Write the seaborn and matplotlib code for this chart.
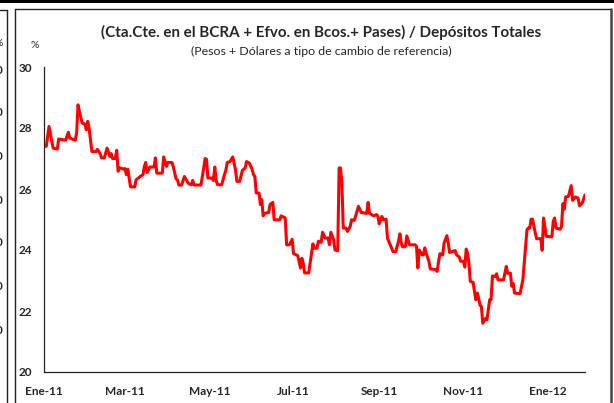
import matplotlib
matplotlib.use("Agg")
import matplotlib.pyplot as plt
import seaborn as sns
import numpy as np
import pandas as pd
from matplotlib.lines import Line2D
from matplotlib.patches import Rectangle

# días desde 01-01-2011 y valor del ratio (%)
dias = [0, 2, 4, 6, 7, 10, 11, 16, 18, 19, 23, 24, 25, 26, 28, 30, 31, 32, 33, 35,
        38, 39, 41, 42, 44, 46, 48, 49, 50, 52, 53, 54, 55, 58, 59, 60, 61, 62, 63, 66,
        67, 70, 72, 73, 74, 75, 77, 80, 81, 82, 86, 87, 89, 90, 93, 94, 96, 97, 98, 100,
        102, 104, 105, 107, 108, 109, 114, 116, 117, 118, 119, 122, 123, 124, 125, 126, 129, 131, 132, 133,
        135, 137, 139, 140, 142, 144, 146, 147, 149, 151, 152, 153, 154, 156, 157, 158, 159, 160, 163, 164,
        166, 167, 171, 172, 175, 176, 178, 180, 181, 184, 185, 186, 187, 188, 189, 192, 193, 195, 196, 198,
        199, 201, 202, 204, 206, 207, 208, 210, 211, 213, 214, 215, 216, 217, 219, 220, 222, 223, 225, 227,
        228, 230, 234, 235, 236, 239, 241, 242, 243, 245, 246, 248, 249, 251, 253, 255, 257, 258, 259, 260,
        262, 263, 265, 269, 270, 271, 272, 274, 275, 276, 277, 279, 280, 284, 285, 286, 287, 289, 290, 292,
        293, 294, 296, 298, 299, 301, 302, 304, 305, 306, 307, 308, 309, 311, 312, 313, 314, 315, 316, 317,
        318, 320, 321, 323, 324, 325, 327, 328, 329, 333, 335, 336, 338, 339, 340, 341, 345, 347, 348, 350,
        351, 352, 353, 354, 356, 357, 360, 361, 362, 364, 368, 369, 370, 371, 374, 375, 376, 377, 378, 380,
        382, 383, 385, 387, 388, 390, 392]

valores = [27.40, 27.40, 28.05, 27.56, 27.34, 27.31, 27.64, 27.60, 27.86, 27.67,
           27.60, 27.84, 28.76, 28.54, 28.16, 28.13, 27.94, 28.22, 28.00, 27.23,
           27.23, 27.30, 27.16, 27.02, 27.02, 27.34, 27.07, 27.16, 27.00, 27.00,
           27.27, 26.58, 26.70, 26.65, 26.67, 26.47, 26.65, 26.36, 26.07, 26.07,
           26.30, 26.41, 26.47, 26.74, 26.87, 26.54, 26.72, 26.72, 27.02, 26.52,
           26.52, 27.05, 26.74, 26.87, 26.87, 26.72, 26.33, 26.30, 26.13, 26.13,
           26.41, 26.25, 26.18, 26.14, 26.28, 26.13, 26.13, 26.69, 27.00, 26.97,
           26.36, 26.36, 26.28, 26.72, 26.28, 26.14, 26.14, 26.47, 26.61, 26.87,
           26.90, 27.05, 26.63, 26.25, 26.25, 26.61, 26.69, 26.90, 26.85, 26.65,
           26.47, 26.41, 25.87, 25.87, 25.49, 25.65, 25.12, 25.20, 25.23, 25.49,
           25.56, 24.99, 24.99, 25.12, 25.05, 24.17, 24.17, 24.35, 23.88, 23.82,
           23.63, 23.41, 23.73, 23.57, 23.25, 23.25, 23.57, 24.20, 24.06, 24.06,
           24.29, 24.25, 24.58, 24.39, 24.39, 24.17, 24.58, 24.34, 24.00, 23.98,
           26.69, 26.69, 26.20, 24.72, 24.72, 24.61, 24.77, 24.99, 24.97, 25.27,
           25.43, 25.23, 25.20, 25.56, 25.20, 25.12, 25.16, 25.12, 24.86, 25.10,
           24.99, 25.01, 24.39, 24.17, 23.95, 23.95, 24.29, 24.53, 24.23, 24.10,
           24.12, 24.46, 24.17, 24.17, 24.12, 23.41, 24.00, 23.84, 23.84, 24.07,
           23.90, 23.63, 23.38, 23.36, 23.30, 23.63, 23.88, 23.84, 24.23, 24.47,
           24.23, 23.92, 23.95, 23.98, 23.84, 23.77, 23.63, 23.63, 23.44, 24.03,
           23.90, 23.54, 22.97, 22.94, 22.64, 22.37, 22.59, 22.42, 22.19, 22.15,
           21.60, 21.76, 21.71, 22.37, 22.37, 23.15, 23.13, 23.22, 23.02, 23.02,
           23.46, 23.24, 23.24, 22.81, 22.90, 22.59, 22.57, 23.02, 23.57, 24.66,
           24.72, 24.72, 25.01, 25.01, 24.56, 24.37, 24.37, 23.99, 25.05, 24.45,
           24.43, 24.94, 25.05, 24.72, 24.68, 24.77, 25.52, 25.34, 25.74, 25.76,
           26.11, 25.63, 25.74, 25.70, 25.45, 25.54, 25.81]

tick_fechas = ["2011-01-01", "2011-03-01", "2011-05-01", "2011-07-01",
               "2011-09-01", "2011-11-01", "2012-01-01"]
tick_labels = ["Ene-11", "Mar-11", "May-11", "Jul-11", "Sep-11", "Nov-11", "Ene-12"]
y_ticks = [20, 22, 24, 26, 28, 30]

titulo = "(Cta.Cte. en el BCRA + Efvo. en Bcos.+ Pases) / Depósitos Totales"
subtitulo = "(Pesos + Dólares a tipo de cambio de referencia)"

sns.set_style("white")
plt.rcParams["font.family"] = ["Lato", "DejaVu Sans"]

origen = pd.Timestamp("2011-01-01")
df = pd.DataFrame({"fecha": origen + pd.to_timedelta(dias, unit="D"),
                   "valor": valores})

W, H = 614, 403
fig = plt.figure(figsize=(W / 100, H / 100), dpi=100)
ax = fig.add_axes([43.5 / W, 1 - 372 / H, (585 - 43.5) / W, (372 - 67) / H])

sns.lineplot(data=df, x="fecha", y="valor", color="#ff0000", linewidth=2.2, ax=ax)

ax.set_xlim(origen, origen + pd.Timedelta(days=392))
ax.set_ylim(20, 30)
ax.set_xticks(pd.to_datetime(tick_fechas))
ax.set_xticklabels(tick_labels, fontweight="bold", fontsize=8.5)
ax.set_yticks(y_ticks)
ax.set_yticklabels([str(v) for v in y_ticks], fontweight="bold", fontsize=8.5)
ax.set_xlabel("")
ax.set_ylabel("")
ax.tick_params(axis="x", direction="in", length=4, width=0.8, color="#222222", pad=10)
ax.tick_params(axis="y", direction="in", length=4, width=0.8, color="#222222", pad=8)
for s in ["top", "right"]:
    ax.spines[s].set_visible(False)
for s in ["left", "bottom"]:
    ax.spines[s].set_color("#222222")
    ax.spines[s].set_linewidth(0.9)

# textos
def fx(px):
    return px / W

def fy(py):
    return 1 - py / H

fig.text(fx(321), fy(32), titulo, ha="center", va="center", fontsize=10.9, fontweight="bold")
fig.text(fx(321), fy(51), subtitulo, ha="center", va="center", fontsize=8.9)
fig.text(fx(35), fy(45), "%", ha="center", va="center", fontsize=7.5)

# marcos
fig.add_artist(Rectangle((0, fy(2.5)), 1, 2.5 / H, transform=fig.transFigure,
                         color="black", lw=0))
fig.add_artist(Line2D([fx(0), fx(7.3)], [fy(10), fy(10)], color="#222222", lw=1.0))
fig.add_artist(Line2D([fx(7.3), fx(7.3)], [fy(10), fy(403)], color="#222222", lw=1.0))
fig.add_artist(Line2D([fx(14.7), fx(611)], [fy(9), fy(9)], color="#222222", lw=1.0))
fig.add_artist(Line2D([fx(14.7), fx(14.7)], [fy(9), fy(403)], color="#222222", lw=1.0))
fig.add_artist(Line2D([fx(611), fx(611)], [fy(9), fy(403)], color="#444444", lw=1.8))

# restos del gráfico vecino (cortado en el borde izquierdo)
for yy in [70, 113, 157, 200, 243, 287, 330]:
    fig.text(fx(3), fy(yy), "0", ha="right", va="center", fontsize=8.5, fontweight="bold")
fig.text(fx(3), fy(44), "%", ha="right", va="center", fontsize=7.5)

fig.savefig("out.png", dpi=100)
